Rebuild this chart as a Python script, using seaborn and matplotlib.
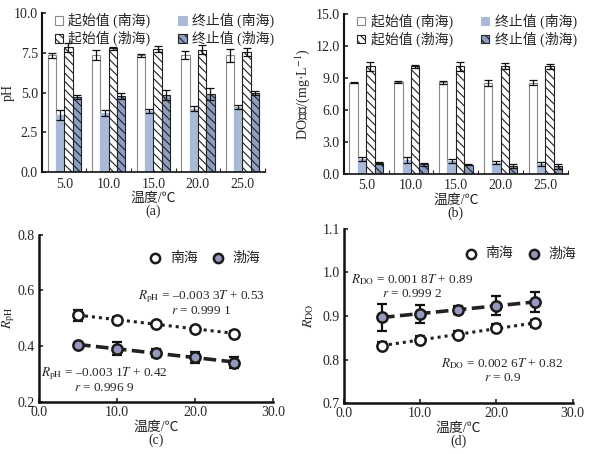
import numpy as np
import pandas as pd
import seaborn as sns
import matplotlib.pyplot as plt

# temperatures / categories
temps = [5.0, 10.0, 15.0, 20.0, 25.0]
temp_labels = ['5.0', '10.0', '15.0', '20.0', '25.0']
series = ['起始值 (南海)', '终止值 (南海)', '起始值 (渤海)', '终止值 (渤海)']

# (a) pH
ph_start_ns = [7.35, 7.38, 7.35, 7.38, 7.35]
ph_start_ns_err = [0.15, 0.3, 0.1, 0.25, 0.4]
ph_end_ns = [3.6, 3.72, 3.85, 3.98, 4.08]
ph_end_ns_err = [0.3, 0.2, 0.15, 0.15, 0.12]
ph_start_bh = [7.85, 7.8, 7.75, 7.7, 7.55]
ph_start_bh_err = [0.3, 0.1, 0.2, 0.3, 0.25]
ph_end_bh = [4.72, 4.8, 4.85, 4.92, 4.98]
ph_end_bh_err = [0.1, 0.2, 0.3, 0.4, 0.15]

# (b) DO
do_start_ns = [8.55, 8.6, 8.6, 8.55, 8.55]
do_start_ns_err = [0.05, 0.1, 0.15, 0.3, 0.25]
do_end_ns = [1.4, 1.3, 1.2, 1.05, 0.95]
do_end_ns_err = [0.2, 0.3, 0.2, 0.15, 0.2]
do_start_bh = [10.1, 10.1, 10.1, 10.1, 10.1]
do_start_bh_err = [0.4, 0.15, 0.4, 0.3, 0.25]
do_end_bh = [1.0, 0.9, 0.85, 0.75, 0.7]
do_end_bh_err = [0.1, 0.15, 0.05, 0.2, 0.2]

# (c) R_pH
rph_ns = [0.511, 0.495, 0.478, 0.463, 0.445]
rph_ns_err = [0.02, 0.008, 0.007, 0.007, 0.008]
rph_bh = [0.404, 0.391, 0.376, 0.360, 0.341]
rph_bh_err = [0.008, 0.022, 0.015, 0.02, 0.02]

# (d) R_DO
rdo_ns = [0.832, 0.845, 0.857, 0.873, 0.883]
rdo_ns_err = [0.008, 0.008, 0.008, 0.008, 0.008]
rdo_bh = [0.897, 0.905, 0.914, 0.924, 0.932]
rdo_bh_err = [0.031, 0.021, 0.01, 0.022, 0.024]

sns.set_theme(style='ticks')
plt.rcParams['font.family'] = ['Liberation Serif', 'Noto Sans CJK SC', 'DejaVu Sans']
plt.rcParams['mathtext.fontset'] = 'stix'
plt.rcParams['hatch.linewidth'] = 0.8
plt.rcParams['axes.unicode_minus'] = False

FS = 10
bar_faces = ['white', '#a9b9d8', 'white', '#8e9ec3']
bar_edges = ['#8a8a8a', '#a9b9d8', '#222222', '#222222']
bar_hatch = [None, None, '\\\\\\\\', '\\\\\\\\']

fig = plt.figure(figsize=(5.99, 4.54), dpi=100)
ax_a = fig.add_axes([0.070, 0.621, 0.372, 0.350])
ax_b = fig.add_axes([0.574, 0.617, 0.374, 0.352])
ax_c = fig.add_axes([0.065, 0.115, 0.391, 0.368])
ax_d = fig.add_axes([0.574, 0.112, 0.382, 0.384])


def bar_panel(ax, vals, errs, ylim, yticks, ylabel, tag, ylab_x):
    rows = []
    for s, v in zip(series, vals):
        for t, y in zip(temp_labels, v):
            rows.append({'temp': t, 'series': s, 'value': y})
    df = pd.DataFrame(rows)
    sns.barplot(data=df, x='temp', y='value', hue='series', hue_order=series,
                order=temp_labels, width=0.75, errorbar=None, ax=ax,
                palette=bar_faces, saturation=1, legend=False)
    for cont, fc, ec, h, err in zip(ax.containers, bar_faces, bar_edges, bar_hatch, errs):
        xs, ys = [], []
        for bar in cont:
            bar.set_facecolor(fc)
            bar.set_edgecolor(ec)
            bar.set_linewidth(0.8)
            if h:
                bar.set_hatch(h)
            xs.append(bar.get_x() + bar.get_width() / 2)
            ys.append(bar.get_height())
        ax.errorbar(xs, ys, yerr=err, fmt='none', ecolor='#111111',
                    elinewidth=0.9, capsize=3, capthick=0.9)
    # column-first fill -> reorder so rows read 南海 / 渤海
    conts = ax.containers
    order = [0, 2, 1, 3]
    ax.legend([conts[i] for i in order], [series[i] for i in order], ncol=2,
              frameon=False, fontsize=FS, loc='upper center',
              bbox_to_anchor=(0.55, 1.08), handlelength=0.6, handleheight=0.6,
              handletextpad=0.4, columnspacing=2.0, labelspacing=0.2)
    ax.set_xlim(-0.5, 4.5)
    ax.set_ylim(*ylim)
    ax.set_yticks(yticks)
    ax.set_yticklabels(['%.1f' % t for t in yticks])
    ax.set_xticks(np.arange(5) + 0.5, minor=False)
    ax.set_xticklabels([])
    ax.set_xticks(np.arange(5), minor=True)
    ax.set_xticklabels(temp_labels, minor=True)
    ax.tick_params(axis='x', which='major', direction='in', length=3, width=0.8)
    ax.tick_params(axis='x', which='minor', length=0, labelsize=FS, pad=4)
    ax.tick_params(axis='y', direction='in', length=3, width=1.2, labelsize=FS, pad=3)
    ax.set_ylabel(ylabel, fontsize=FS)
    ax.yaxis.set_label_coords(ylab_x, 0.5)
    ax.set_xlabel('温度/℃\n(%s)' % tag, fontsize=FS, labelpad=1, linespacing=1.0)
    for sp in ['top', 'right']:
        ax.spines[sp].set_visible(False)
    ax.spines['left'].set_linewidth(1.5)
    ax.spines['bottom'].set_linewidth(1.2)
    for sp in ['left', 'bottom']:
        ax.spines[sp].set_color('#111111')


bar_panel(ax_a, [ph_start_ns, ph_end_ns, ph_start_bh, ph_end_bh],
          [ph_start_ns_err, ph_end_ns_err, ph_start_bh_err, ph_end_bh_err],
          (0, 10), [0, 2.5, 5.0, 7.5, 10.0], 'pH', 'a', -0.12)
bar_panel(ax_b, [do_start_ns, do_end_ns, do_start_bh, do_end_bh],
          [do_start_ns_err, do_end_ns_err, do_start_bh_err, do_end_bh_err],
          (0, 15), [0, 3.0, 6.0, 9.0, 12.0, 15.0], 'DO浓度/(mg·L$^{-1}$)', 'b', -0.14)


def r_panel(ax, ns, ns_err, bh, bh_err, ylim, yticks, ylabel, tag, ylab_x):
    sns.regplot(x=temps, y=ns, ci=None, scatter=False, ax=ax,
                line_kws=dict(color='#222222', lw=2.2, ls=(0, (1, 1.3))))
    sns.regplot(x=temps, y=bh, ci=None, scatter=False, ax=ax,
                line_kws=dict(color='#222222', lw=2.6, ls=(0, (3.5, 1.5))))
    ax.errorbar(temps, ns, yerr=ns_err, fmt='none', ecolor='#111111',
                elinewidth=1.6, capsize=3.5, capthick=1.6)
    ax.errorbar(temps, bh, yerr=bh_err, fmt='none', ecolor='#111111',
                elinewidth=1.6, capsize=3.5, capthick=1.6)
    sns.scatterplot(x=temps, y=ns, ax=ax, marker='o', s=55, color='white',
                    edgecolor='#1a1a1a', linewidth=1.8, label='南海', zorder=5)
    sns.scatterplot(x=temps, y=bh, ax=ax, marker='o', s=55, color='#9598bf',
                    edgecolor='#1a1a1a', linewidth=1.8, label='渤海', zorder=5)
    ax.set_xlim(0, 30)
    ax.set_ylim(*ylim)
    ax.set_xticks([0, 10, 20, 30])
    ax.set_xticklabels(['0.0', '10.0', '20.0', '30.0'])
    ax.set_yticks(yticks)
    ax.set_yticklabels(['%.1f' % t for t in yticks])
    ax.tick_params(direction='in', length=3, width=1.2, labelsize=FS, pad=3)
    ax.set_ylabel(ylabel, fontsize=FS)
    ax.yaxis.set_label_coords(ylab_x, 0.5)
    ax.set_xlabel('温度/℃\n(%s)' % tag, fontsize=FS, labelpad=1, linespacing=1.0)
    for sp in ['top', 'right']:
        ax.spines[sp].set_visible(False)
    for sp in ['left', 'bottom']:
        ax.spines[sp].set_linewidth(1.8)
        ax.spines[sp].set_color('#111111')


eq_kw = dict(fontsize=9.5, ha='center', va='center', multialignment='center',
             linespacing=1.05)

r_panel(ax_c, rph_ns, rph_ns_err, rph_bh, rph_bh_err, (0.2, 0.8),
        [0.2, 0.4, 0.6, 0.8], r'$R_{\mathrm{pH}}$', 'c', -0.095)
ax_c.legend(ncol=2, frameon=False, fontsize=FS, loc='center right',
            bbox_to_anchor=(1.0, 0.86), handletextpad=0.05, columnspacing=0.5,
            markerscale=0.9)
ax_c.text(20.8, 0.556, '$R_{\\mathrm{pH}}$ = –0.003 3$T$ + 0.53\n$r$ = 0.999 1', **eq_kw)
ax_c.text(8.4, 0.279, '$R_{\\mathrm{pH}}$ = –0.003 1$T$ + 0.42\n$r$ = 0.996 9', **eq_kw)

r_panel(ax_d, rdo_ns, rdo_ns_err, rdo_bh, rdo_bh_err, (0.7, 1.1),
        [0.7, 0.8, 0.9, 1.0, 1.1], r'$R_{\mathrm{DO}}$', 'd', -0.12)
ax_d.legend(ncol=2, frameon=False, fontsize=FS, loc='center right',
            bbox_to_anchor=(1.07, 0.856), handletextpad=0.05, columnspacing=0.5,
            markerscale=0.9)
ax_d.text(8.9, 0.969, '$R_{\\mathrm{DO}}$ = 0.001 8$T$ + 0.89\n$r$ = 0.999 2', **eq_kw)
ax_d.text(20.8, 0.776, '$R_{\\mathrm{DO}}$ = 0.002 6$T$ + 0.82\n$r$ = 0.9', **eq_kw)

plt.savefig('out.png', dpi=100)
